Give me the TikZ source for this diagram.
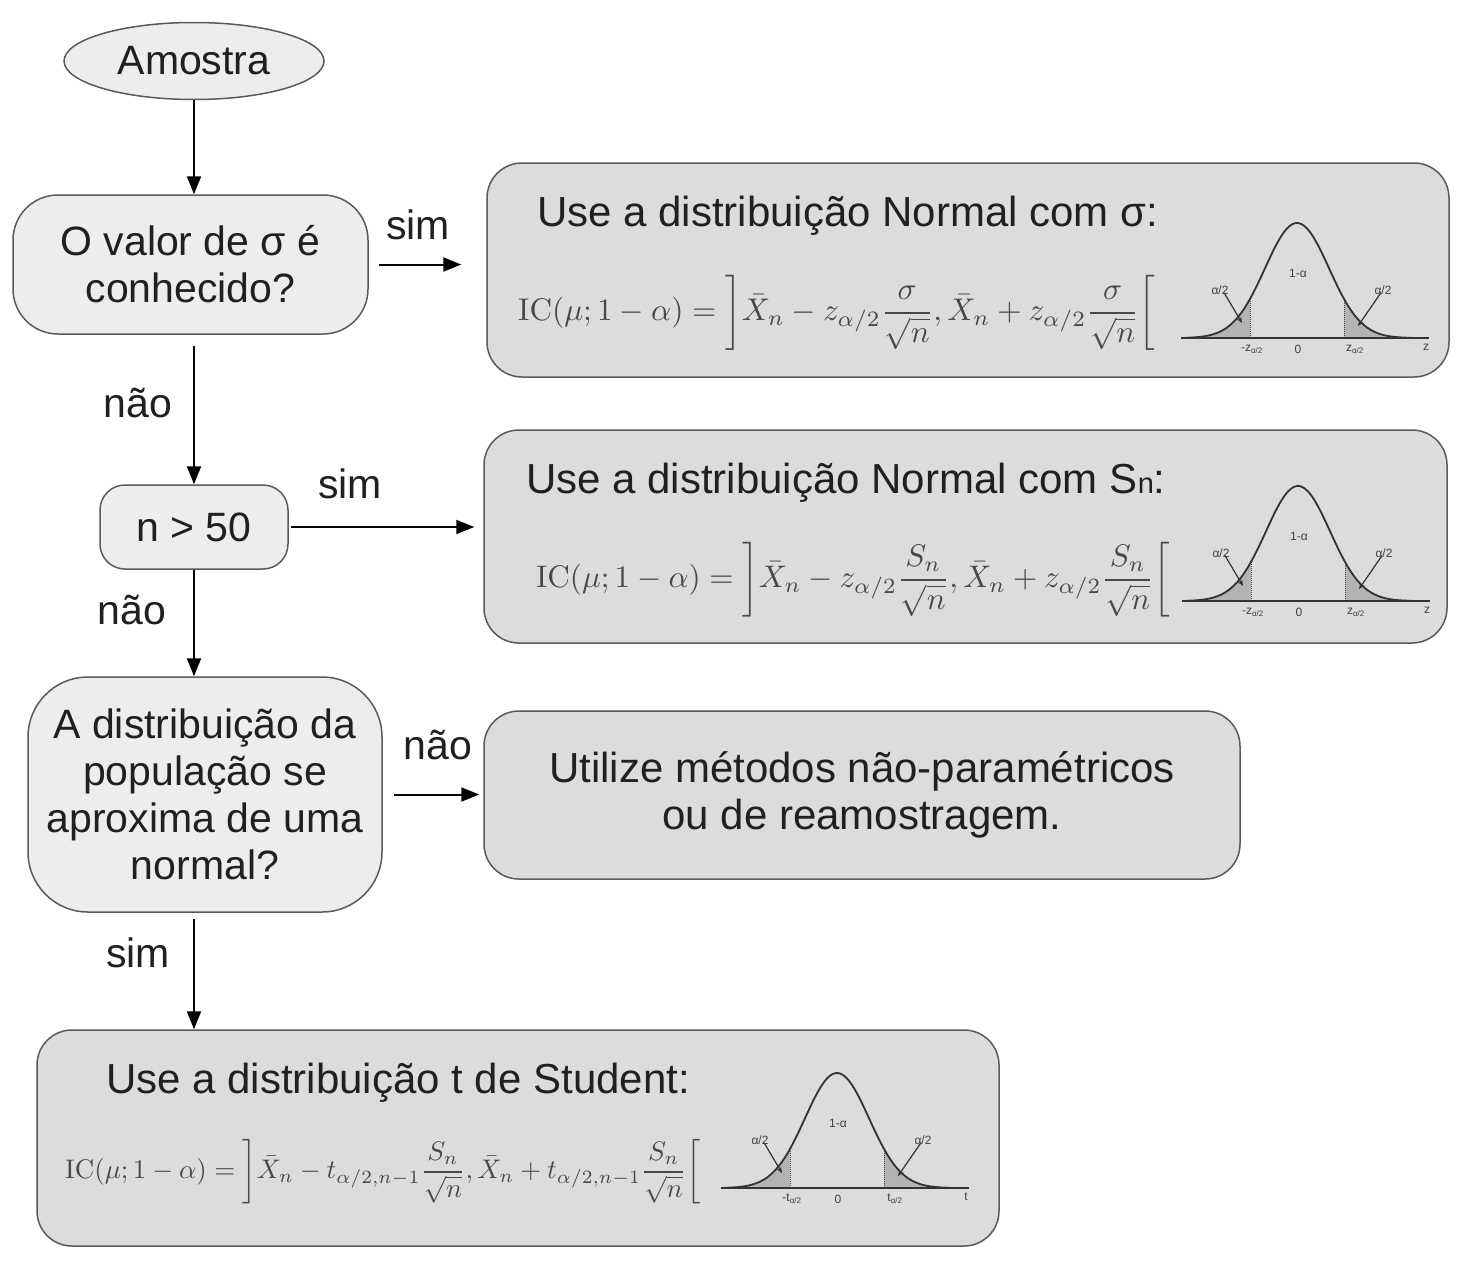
\documentclass[tikz,border=0pt]{standalone}
\usepackage{amsmath}
\usepackage[no-math]{fontspec}
\setmainfont{Liberation Sans}
\usepackage{graphicx}
\usetikzlibrary{arrows.meta,calc,shapes.geometric}
\definecolor{lightbox}{HTML}{EDEDED}
\definecolor{darkbox}{HTML}{DCDCDC}
\definecolor{edge}{HTML}{5A5A5A}
\definecolor{ink}{HTML}{202020}
\definecolor{mathink}{HTML}{484848}
\definecolor{tailfill}{HTML}{B3B3B3}
\newcommand{\bigfont}{\fontsize{41}{47}\selectfont}
\newcommand{\titlefont}{\fontsize{42}{47}\selectfont}
\tikzset{
  smallbox/.style={draw=edge, line width=1.5pt, fill=lightbox, rounded corners=#1, align=center, font=\bigfont, text=ink, inner sep=0pt},
  smallbox/.default=30pt,
  bigbox/.style={draw=edge, line width=1.5pt, fill=darkbox, rounded corners=35pt, inner sep=0pt, align=center, font=\titlefont, text=ink},
  arr/.style={-{Triangle[length=18pt,width=14pt]}, line width=2pt, black},
  lbl/.style={font=\bigfont, text=ink, inner sep=0pt},
  titletext/.style={font=\titlefont, text=ink, anchor=west, inner sep=0pt},
  formula/.style={text=mathink, anchor=west, inner sep=0pt},
  bellcurve/.style={line width=1.8pt, draw=black!80},
  belllabel/.style={font=\fontsize{12}{14}\selectfont, text=black!75, inner sep=0pt},
  smallarr/.style={-{Stealth[length=6pt,width=5pt]}, line width=1.2pt, black!80},
}
\newcommand{\bellplot}[3]{%
  \begin{scope}[shift={(#1,#2)}]
    \fill[tailfill] (-113,0) -- plot[domain=-113:-47,samples=30] (\x,{-115*exp(-(\x/32)*(\x/32)/2)}) -- (-47,0) -- cycle;
    \fill[tailfill] (47,0) -- plot[domain=47:113,samples=30] (\x,{-115*exp(-(\x/32)*(\x/32)/2)}) -- (113,0) -- cycle;
    \draw[densely dotted, line width=1pt, black!70] (-47,0) -- (-47,{-115*exp(-(47/32)*(47/32)/2)});
    \draw[densely dotted, line width=1pt, black!70] (47,0) -- (47,{-115*exp(-(47/32)*(47/32)/2)});
    \draw[line width=1.8pt, black!80] (-116,0) -- (132,0);
    \draw[bellcurve] plot[domain=-113:113,samples=80,smooth] (\x,{-115*exp(-(\x/32)*(\x/32)/2)});
    \node[belllabel] (la) at (-77,-48) {α/2};
    \node[belllabel] (ra) at (86,-48) {α/2};
    \node[belllabel] (ma) at (1,-65) {1-α};
    \coordinate (lt) at (-55,-15);
    \coordinate (rt) at (61,-12);
    \draw[smallarr] ($(la.south)+(4,-2)$) -- (lt);
    \draw[smallarr] ($(ra.south)+(-2,-2)$) -- (rt);
    \node[belllabel] at (-45,11) {-#3\textsubscript{α/2}};
    \node[belllabel] at (1,11) {0};
    \node[belllabel] at (58,11) {#3\textsubscript{α/2}};
    \node[belllabel] at (129,9) {#3};
  \end{scope}}
\begin{document}
\begin{tikzpicture}[x=1pt,y=-1pt]
\useasboundingbox[fill=white] (0,0) rectangle (1474,1266);
% flow nodes
\node[ellipse, draw=edge, line width=1.5pt, fill=lightbox, minimum width=260pt, minimum height=77pt, inner sep=0pt, font=\bigfont, text=ink] (amostra) at (194,61) {Amostra};
\node[smallbox=45pt, minimum width=355pt, minimum height=139pt] (q1) at (190.5,264.5) {O valor de σ é\\conhecido?};
\node[smallbox=25pt, minimum width=188pt, minimum height=84pt] (n50) at (194,527) {n > 50};
\node[smallbox=60pt, minimum width=354pt, minimum height=235pt] (q3) at (205,794.5) {A distribuição da\\população se\\aproxima de uma\\normal?};
\node[bigbox, minimum width=962pt, minimum height=214pt] (bA) at (968,270) {};
\node[bigbox, minimum width=963pt, minimum height=213pt] (bB) at (965.5,536.5) {};
\node[bigbox, minimum width=756pt, minimum height=168pt] (bC) at (862,795) {Utilize métodos não-paramétricos\\ou de reamostragem.};
\node[bigbox, minimum width=962pt, minimum height=216pt] (bD) at (518,1138) {};
% titles
\node[titletext] (tA) at (537,216) {Use a distribuição Normal com σ:};
\node[titletext] (tB) at (526,483) {Use a distribuição Normal com S{\fontsize{29}{30}\selectfont n}:};
\node[titletext] (tD) at (106,1083) {Use a distribuição t de Student:};
% formulas
\node[formula] (fA) at (518,313) {\resizebox{637pt}{!}{$\mathrm{IC}(\mu;1-\alpha)=\left]\bar X_n - z_{\alpha/2}\dfrac{\sigma}{\sqrt{n}}, \bar X_n + z_{\alpha/2}\dfrac{\sigma}{\sqrt{n}}\right[$}};
\node[formula] (fB) at (536,580) {\resizebox{634pt}{!}{$\mathrm{IC}(\mu;1-\alpha)=\left]\bar X_n - z_{\alpha/2}\dfrac{S_n}{\sqrt{n}}, \bar X_n + z_{\alpha/2}\dfrac{S_n}{\sqrt{n}}\right[$}};
\node[formula] (fD) at (65,1172) {\resizebox{635pt}{!}{$\mathrm{IC}(\mu;1-\alpha)=\left]\bar X_n - t_{\alpha/2,n-1}\dfrac{S_n}{\sqrt{n}}, \bar X_n + t_{\alpha/2,n-1}\dfrac{S_n}{\sqrt{n}}\right[$}};
% bell curves
\bellplot{1297}{338}{z}
\bellplot{1298}{601}{z}
\bellplot{837}{1188}{t}
% connectors
\draw[arr] (amostra.south) -- (amostra.south |- q1.north);
\draw[arr, shorten <=10pt, shorten >=25pt] (q1.east) -- (q1.east -| bA.west);
\draw[arr, shorten <=11pt] (q1.south -| amostra.south) -- (amostra.south |- n50.north);
\draw[arr, shorten <=2pt, shorten >=9pt] (n50.east) -- (n50.east -| bB.west);
\draw[arr] (n50.south) -- (n50.south |- q3.north);
\draw[arr, shorten <=11pt, shorten >=4pt] (q3.east) -- (q3.east -| bC.west);
\draw[arr, shorten <=6pt] ($(q3.south)+(-11,0)$) -- ($(q3.south |- bD.north)+(-11,0)$);
% connector labels
\node[lbl] at (418,225) {sim};
\node[lbl] at (138,403) {não};
\node[lbl] at (350,484) {sim};
\node[lbl] at (132,610) {não};
\node[lbl] at (438,745) {não};
\node[lbl] at (138,953) {sim};
\end{tikzpicture}
\end{document}
